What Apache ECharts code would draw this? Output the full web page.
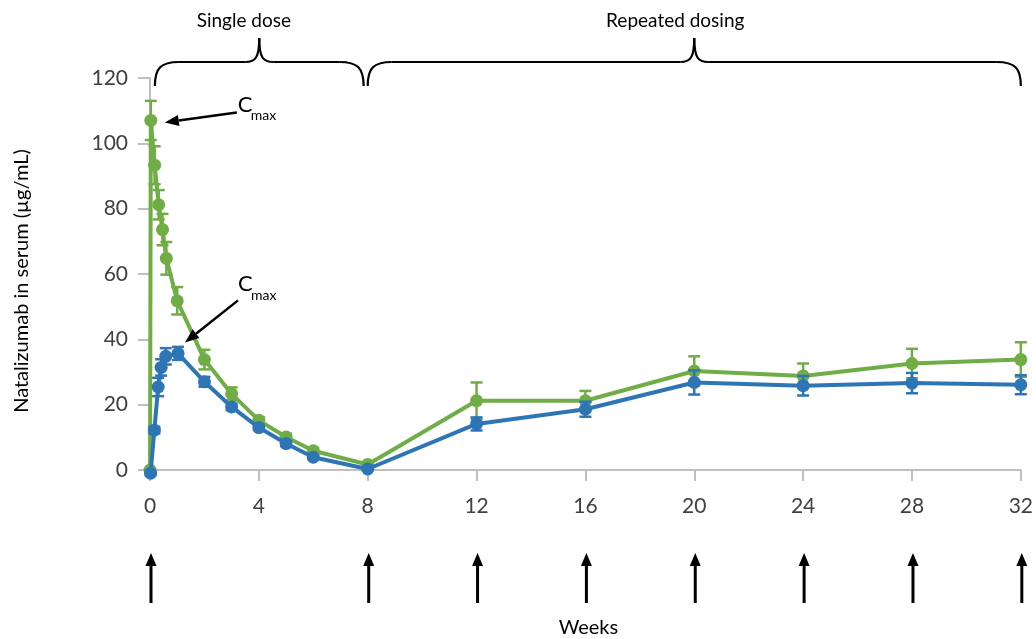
<!DOCTYPE html>
<html><head><meta charset="utf-8">
<script src="https://cdn.jsdelivr.net/npm/echarts@6/dist/echarts.min.js"></script>
<style>html,body{margin:0;padding:0;background:#fff}#c{width:1036px;height:639px}</style>
</head><body><div id="c"></div>
<script>
// ---- data ----
const greenWeeks = [0, 0.03, 0.17, 0.32, 0.46, 0.6, 1, 2, 3, 4, 5, 6, 8, 12, 16, 20, 24, 28, 32];
const greenVals  = [0, 107, 93.3, 81.2, 73.6, 64.8, 51.8, 33.8, 23.3, 15.2, 10.1, 5.9, 1.7, 21.2, 21.2, 30.3, 28.8, 32.6, 33.8];
const greenErr   = [0, 6, 5.8, 4.5, 4.8, 5, 4.2, 3, 2, 1, 1, 0.8, 0.5, 5.6, 3, 4.5, 3.8, 4.5, 5.3];
const blueWeeks  = [0.02, 0.16, 0.3, 0.41, 0.58, 1.03, 2, 3, 4, 5, 6, 8, 12, 16, 20, 24, 28, 32];
const blueVals   = [-1, 12.2, 25.4, 31.4, 34.8, 35.7, 27, 19.3, 13, 8.1, 3.9, 0.3, 14.1, 18.6, 26.8, 25.8, 26.6, 26.1];
const blueErr    = [0.5, 1, 2.8, 2.5, 2.5, 2, 1.5, 1, 0.8, 0.8, 0.5, 0.3, 2, 2.3, 3.7, 3, 3.1, 2.9];
const doseWeeks  = [0, 8, 12, 16, 20, 24, 28, 32];
const yTicks = {min: 0, max: 120, interval: 20};
const xTicks = {min: 0, max: 32, interval: 4};
const yTitle = 'Natalizumab in serum (µg/mL)';
const xTitle = 'Weeks';
const phase1 = 'Single dose', phase2 = 'Repeated dosing';

const GREEN = '#70ad47', BLUE = '#2e75b6', AXIS = '#bfbfbf', TXT = '#404040';
const FONT = 'Lato';

function pairs(xs, ys){ return xs.map((x,i)=>[x, ys[i]]); }
function errData(xs, ys, es){ return xs.map((x,i)=>[x, ys[i]-es[i], ys[i]+es[i]]); }
function errRender(color){
  return function(params, api){
    const x = api.value(0), lo = api.value(1), hi = api.value(2);
    if (hi - lo < 0.01) return null;
    const a = api.coord([x, lo]), b = api.coord([x, hi]);
    const hw = 6, st = {stroke: color, lineWidth: 2.5};
    return {type:'group', children:[
      {type:'line', shape:{x1:a[0], y1:a[1], x2:b[0], y2:b[1]}, style:st},
      {type:'line', shape:{x1:b[0]-hw, y1:b[1], x2:b[0]+hw, y2:b[1]}, style:st},
      {type:'line', shape:{x1:a[0]-hw, y1:a[1], x2:a[0]+hw, y2:a[1]}, style:st}
    ]};
  };
}

const chart = echarts.init(document.getElementById('c'));
chart.setOption({
  animation: false,
  backgroundColor: '#fff',
  grid: {left: 150, right: 13, top: 78, bottom: 169, containLabel: false},
  xAxis: {
    type: 'value', min: xTicks.min, max: xTicks.max, interval: xTicks.interval,
    axisLine: {show: true, lineStyle: {color: AXIS, width: 2}},
    axisTick: {show: true, length: 11, lineStyle: {color: AXIS, width: 2}},
    splitLine: {show: false},
    axisLabel: {color: TXT, fontSize: 21, fontFamily: FONT, margin: 26}
  },
  yAxis: {
    type: 'value', min: yTicks.min, max: yTicks.max, interval: yTicks.interval,
    axisLine: {show: true, lineStyle: {color: AXIS, width: 2}},
    axisTick: {show: true, length: 12, lineStyle: {color: AXIS, width: 2}},
    splitLine: {show: false},
    axisLabel: {color: TXT, fontSize: 21, fontFamily: FONT, margin: 22}
  },
  series: [
    {type:'custom', z: 2, renderItem: errRender(GREEN), data: errData(greenWeeks, greenVals, greenErr), encode:{x:0, y:[1,2]}, clip:false},
    {type:'line', z: 3, data: pairs(greenWeeks, greenVals), symbol:'circle', symbolSize: 13, showAllSymbol: true, clip: false,
      itemStyle:{color: GREEN}, lineStyle:{color: GREEN, width: 4}},
    {type:'custom', z: 4, renderItem: errRender(BLUE), data: errData(blueWeeks, blueVals, blueErr), encode:{x:0, y:[1,2]}, clip:false},
    {type:'line', z: 5, data: pairs(blueWeeks, blueVals), symbol:'circle', symbolSize: 13, showAllSymbol: true, clip: false,
      itemStyle:{color: BLUE}, lineStyle:{color: BLUE, width: 4}}
  ]
});

function px(w, v){ return chart.convertToPixel({gridIndex: 0}, [w, v]); }
function arrow(x1, y1, x2, y2, lw, hl, hw){
  const a = Math.atan2(y2-y1, x2-x1);
  const bx = x2 - hl*Math.cos(a), by = y2 - hl*Math.sin(a);
  const nx = -Math.sin(a)*hw/2, ny = Math.cos(a)*hw/2;
  return [
    {type:'line', shape:{x1:x1, y1:y1, x2:bx, y2:by}, style:{stroke:'#000', lineWidth: lw}, z: 20},
    {type:'polygon', shape:{points:[[x2,y2],[bx+nx,by+ny],[bx-nx,by-ny]]}, style:{fill:'#000'}, z: 20}
  ];
}
function bez(x1,y1,c1x,c1y,c2x,c2y,x2,y2){
  return {type:'bezierCurve', shape:{x1:x1,y1:y1,cpx1:c1x,cpy1:c1y,cpx2:c2x,cpy2:c2y,x2:x2,y2:y2},
    style:{stroke:'#000', lineWidth: 2.2, fill: null}, z: 20};
}
function seg(x1,y1,x2,y2){
  return {type:'line', shape:{x1:x1,y1:y1,x2:x2,y2:y2}, style:{stroke:'#000', lineWidth: 2.2}, z: 20};
}
function brace(xa, xb, yEnd, yBase, yTip){
  const xm = (xa + xb) / 2, r = 24, r2 = 14;
  return [
    bez(xa, yEnd, xa, yBase+6, xa+6, yBase, xa+r, yBase),
    seg(xa+r, yBase, xm-r2, yBase),
    bez(xm-r2, yBase, xm-4, yBase, xm, yBase-4, xm, yTip),
    bez(xm, yTip, xm, yBase-4, xm+4, yBase, xm+r2, yBase),
    seg(xm+r2, yBase, xb-r, yBase),
    bez(xb-r, yBase, xb-6, yBase, xb, yBase+6, xb, yEnd)
  ];
}

const g = [];
// braces
const b1a = px(0.18, 0)[0], b1b = px(7.85, 0)[0], b2a = px(8, 0)[0], b2b = px(32, 0)[0];
g.push(...brace(b1a, b1b, 86, 62, 38));
g.push(...brace(b2a, b2b, 86, 62, 38));
g.push({type:'text', x: px(3.45,0)[0], y: 21, style:{text: phase1, fill: '#000', font: `19px ${FONT}`, textAlign:'center', textVerticalAlign:'middle'}, z: 20});
g.push({type:'text', x: px(19.3,0)[0], y: 21, style:{text: phase2, fill: '#000', font: `19px ${FONT}`, textAlign:'center', textVerticalAlign:'middle'}, z: 20});
// Cmax annotations
const gm = px(greenWeeks[1], greenVals[1]);
g.push(...arrow(gm[0]+86, gm[1]-8, gm[0]+14, gm[1]+2, 2.5, 14, 11));
g.push({type:'text', x: gm[0]+87, y: gm[1]-16, style:{text:'C', fill:'#000', font:`22px ${FONT}`, textAlign:'left', textVerticalAlign:'middle'}, z: 20});
g.push({type:'text', x: gm[0]+100, y: gm[1]-5, style:{text:'max', fill:'#000', font:`14px ${FONT}`, textAlign:'left', textVerticalAlign:'middle'}, z: 20});
const bm = px(blueWeeks[5], blueVals[5]);
g.push(...arrow(bm[0]+60, bm[1]-53, bm[0]+7, bm[1]-11, 2.5, 14, 11));
g.push({type:'text', x: bm[0]+60, y: bm[1]-69, style:{text:'C', fill:'#000', font:`22px ${FONT}`, textAlign:'left', textVerticalAlign:'middle'}, z: 20});
g.push({type:'text', x: bm[0]+73, y: bm[1]-58, style:{text:'max', fill:'#000', font:`14px ${FONT}`, textAlign:'left', textVerticalAlign:'middle'}, z: 20});
// dose arrows
doseWeeks.forEach(w => {
  const x = px(w, 0)[0] + 1;
  g.push(...arrow(x, 603, x, 553, 3, 13, 11));
});
// axis titles
g.push({type:'text', x: 22, y: 281, rotation: Math.PI/2, style:{text: yTitle, fill: '#000', font: `20px ${FONT}`, textAlign:'center', textVerticalAlign:'middle'}, z: 20});
g.push({type:'text', x: (px(0,0)[0] + px(32,0)[0]) / 2 + 3, y: 628, style:{text: xTitle, fill: '#000', font: `20px ${FONT}`, textAlign:'center', textVerticalAlign:'middle'}, z: 20});

chart.setOption({graphic: g});
</script>
</body></html>
